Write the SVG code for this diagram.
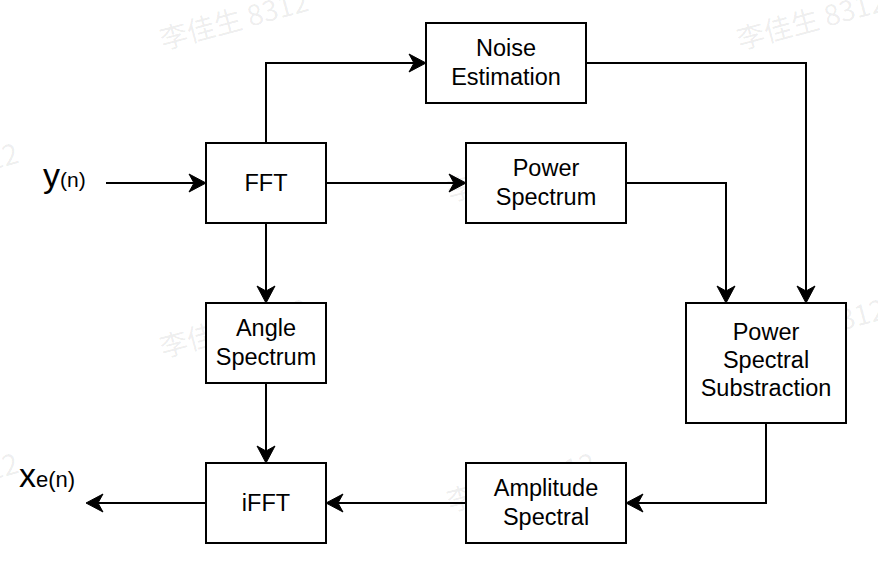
<svg xmlns="http://www.w3.org/2000/svg" width="878" height="564" viewBox="0 0 878 564">
<style>
.box{fill:#fff;stroke:#000;stroke-width:2}
.lbl{font-family:"Liberation Sans",Arial,sans-serif;font-size:23.5px;fill:#000;text-anchor:middle}
.io{font-family:"Liberation Sans",Arial,sans-serif;fill:#000}
.wire{fill:none;stroke:#000;stroke-width:2;marker-end:url(#arr)}
.wm{font-family:"Noto Sans CJK SC","Liberation Sans",sans-serif;font-size:28px;fill:#000;fill-opacity:0.08}
</style>
<defs>
<marker id="arr" markerUnits="userSpaceOnUse" viewBox="-6 -10 20 20" markerWidth="20" markerHeight="20" refX="0" refY="0" orient="auto" overflow="visible">
<path d="M12,0 L-5,-9 L0,0 L-5,9 Z" fill="#000" stroke="#000" stroke-width="1" stroke-linejoin="miter"/>
</marker>
</defs>
<rect width="878" height="564" fill="#fff"/>
<g id="watermarks">
<text class="wm" transform="translate(163,50) rotate(-15)">李佳生 8312</text>
<text class="wm" transform="translate(740,50) rotate(-15)">李佳生 8312</text>
<text class="wm" transform="translate(-127,202) rotate(-15)">李佳生 8312</text>
<text class="wm" transform="translate(450,202) rotate(-15)">李佳生 8312</text>
<text class="wm" transform="translate(163,358) rotate(-15)">李佳生 8312</text>
<text class="wm" transform="translate(740,358) rotate(-15)">李佳生 8312</text>
<text class="wm" transform="translate(-127,512) rotate(-15)">李佳生 8312</text>
<text class="wm" transform="translate(450,512) rotate(-15)">李佳生 8312</text>
</g>
<g id="connectors">
<path class="wire" d="M106,183 H194"/>
<path class="wire" d="M266,143 V63 H414"/>
<path class="wire" d="M326,183 H454"/>
<path class="wire" d="M586,63 H806 V291"/>
<path class="wire" d="M626,183 H726 V291"/>
<path class="wire" d="M266,223 V291"/>
<path class="wire" d="M266,383 V451"/>
<path class="wire" d="M766,423 V503 H638"/>
<path class="wire" d="M466,503 H338"/>
<path class="wire" d="M206,503 H98"/>
</g>
<g id="input">
<text class="io" x="43" y="187"><tspan font-size="34">y</tspan><tspan font-size="21">(n)</tspan></text>
</g>
<g id="output">
<text class="io" x="19" y="487"><tspan font-size="34">x</tspan><tspan font-size="22">e(n)</tspan></text>
</g>
<g id="fft">
<rect class="box" x="206" y="143" width="120" height="80"/>
<text class="lbl" x="266" y="191">FFT</text>
</g>
<g id="noise-estimation">
<rect class="box" x="426" y="23" width="160" height="80"/>
<text class="lbl" x="506" y="56.3">Noise</text>
<text class="lbl" x="506" y="85.3">Estimation</text>
</g>
<g id="power-spectrum">
<rect class="box" x="466" y="143" width="160" height="80"/>
<text class="lbl" x="546" y="176.3">Power</text>
<text class="lbl" x="546" y="205.3">Spectrum</text>
</g>
<g id="angle-spectrum">
<rect class="box" x="206" y="303" width="120" height="80"/>
<text class="lbl" x="266" y="336.3">Angle</text>
<text class="lbl" x="266" y="365.3">Spectrum</text>
</g>
<g id="power-spectral-substraction">
<rect class="box" x="686" y="303" width="160" height="120"/>
<text class="lbl" x="766" y="340.3">Power</text>
<text class="lbl" x="766" y="368.3">Spectral</text>
<text class="lbl" x="766" y="396.3">Substraction</text>
</g>
<g id="amplitude-spectral">
<rect class="box" x="466" y="463" width="160" height="80"/>
<text class="lbl" x="546" y="496.3">Amplitude</text>
<text class="lbl" x="546" y="525.3">Spectral</text>
</g>
<g id="ifft">
<rect class="box" x="206" y="463" width="120" height="80"/>
<text class="lbl" x="266" y="511">iFFT</text>
</g>
</svg>
